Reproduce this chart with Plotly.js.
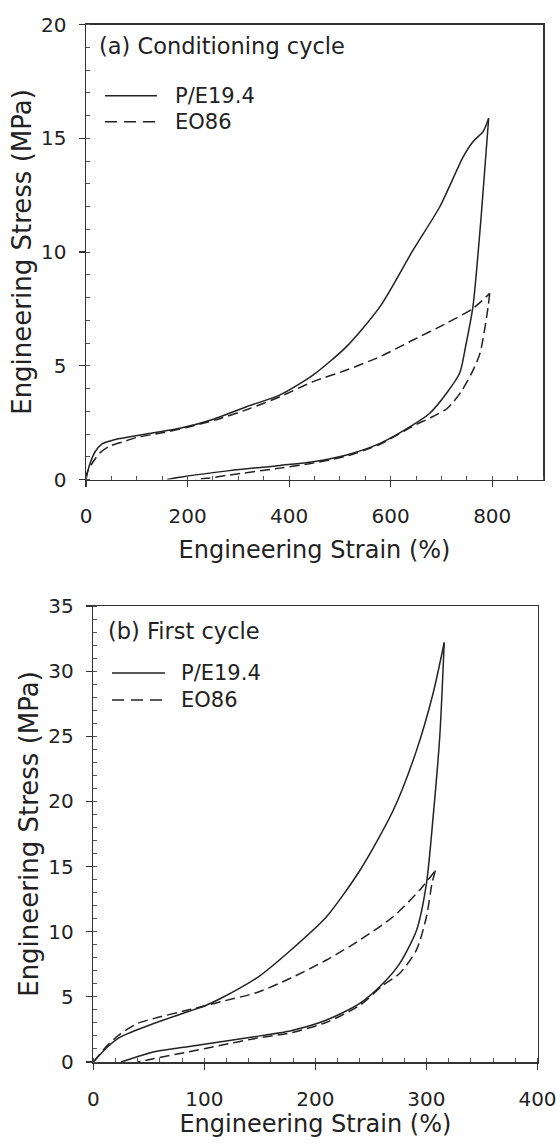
<!DOCTYPE html>
<html>
<head>
<meta charset="utf-8">
<script src="https://cdn.plot.ly/plotly-3.0.1.min.js"></script>
<style>html,body{margin:0;padding:0;background:#fff;}#chart{width:560px;height:1148px;}</style>
</head>
<body>
<div id="chart"></div>
<script>
// ---- Data ----
const seriesNames = ["P/E19.4", "EO86"];
const panelLabels = ["(a) Conditioning cycle", "(b) First cycle"];
const xTitle = "Engineering Strain (%)";
const yTitle = "Engineering Stress (MPa)";

// Panel (a): conditioning cycle
const condPELoadX   = [0, 4, 8, 18, 31, 54, 87, 119, 185, 251, 316, 382, 447, 513, 579, 644, 697, 743, 762, 782, 793];
const condPELoadY   = [0, 0.4, 0.71, 1.22, 1.56, 1.74, 1.88, 2.0, 2.25, 2.65, 3.2, 3.72, 4.59, 5.84, 7.60, 10.08, 12.0, 14.19, 14.85, 15.29, 15.88];
const condPEUnloadX = [793, 778, 762, 748, 736, 710, 677, 644, 579, 513, 447, 382, 283, 185, 160];
const condPEUnloadY = [15.88, 11.5, 7.60, 5.9, 4.68, 3.79, 2.91, 2.40, 1.59, 1.08, 0.78, 0.62, 0.39, 0.10, 0];
const condEOLoadX   = [0, 2, 14, 28, 47, 73, 100, 150, 200, 260, 320, 382, 447, 513, 579, 644, 710, 762, 795];
const condEOLoadY   = [0, 0.3, 0.78, 1.18, 1.47, 1.66, 1.85, 2.05, 2.3, 2.65, 3.1, 3.64, 4.30, 4.81, 5.40, 6.13, 6.87, 7.52, 8.18];
const condEOUnloadX = [795, 792, 776, 760, 740, 723, 710, 677, 644, 579, 513, 447, 382, 283, 238, 215];
const condEOUnloadY = [8.18, 7.6, 5.55, 4.7, 3.9, 3.4, 3.1, 2.7, 2.35, 1.55, 1.03, 0.72, 0.50, 0.2, 0.05, 0];

// Panel (b): first cycle
const firstPELoadX   = [0, 13, 25, 55, 85, 100, 115, 148, 178, 210, 240, 270, 291, 306, 316];
const firstPELoadY   = [0, 1.17, 1.94, 2.97, 3.86, 4.3, 4.89, 6.5, 8.6, 11.15, 14.7, 19.3, 23.9, 28.3, 32.2];
const firstPEUnloadX = [316, 312, 306, 300, 291, 276, 261, 240, 210, 178, 145, 115, 85, 55, 25];
const firstPEUnloadY = [32.2, 25.0, 18.8, 13.7, 10.1, 7.57, 6.04, 4.5, 3.22, 2.4, 1.94, 1.56, 1.17, 0.79, 0];
const firstEOLoadX   = [0, 13, 25, 40, 55, 85, 100, 115, 148, 178, 210, 240, 270, 294, 308];
const firstEOLoadY   = [0, 1.3, 2.2, 2.97, 3.35, 3.99, 4.3, 4.63, 5.35, 6.45, 7.83, 9.36, 11.15, 13.2, 14.7];
const firstEOUnloadX = [308, 305, 300, 291, 276, 261, 240, 210, 178, 145, 115, 85, 55, 40];
const firstEOUnloadY = [14.7, 13.7, 11.15, 8.6, 6.81, 5.9, 4.35, 3.05, 2.25, 1.79, 1.28, 0.77, 0.26, 0];

// ---- Styling ----
const W = 560, H = 1148;
const INK = '#222';
const FONT = 'DejaVu Sans, Liberation Sans, Arial, sans-serif';
const DASH = '10px,5px';
const px = v => v / W;
const py = v => 1 - v / H;

function trace(x, y, name, dash, xa, ya) {
  return {x: x, y: y, name: name, type: 'scatter', mode: 'lines', xaxis: xa, yaxis: ya,
          line: {color: INK, width: 1.5, dash: dash, shape: 'spline', smoothing: 0.7},
          showlegend: false, hoverinfo: 'skip'};
}
const data = [
  trace(condPELoadX, condPELoadY, seriesNames[0], 'solid', 'x', 'y'),
  trace(condPEUnloadX, condPEUnloadY, seriesNames[0], 'solid', 'x', 'y'),
  trace(condEOLoadX, condEOLoadY, seriesNames[1], DASH, 'x', 'y'),
  trace(condEOUnloadX, condEOUnloadY, seriesNames[1], DASH, 'x', 'y'),
  trace(firstPELoadX, firstPELoadY, seriesNames[0], 'solid', 'x2', 'y2'),
  trace(firstPEUnloadX, firstPEUnloadY, seriesNames[0], 'solid', 'x2', 'y2'),
  trace(firstEOLoadX, firstEOLoadY, seriesNames[1], DASH, 'x2', 'y2'),
  trace(firstEOUnloadX, firstEOUnloadY, seriesNames[1], DASH, 'x2', 'y2')
];

function xax(domain, range, dtick, minor, anchor, standoff) {
  return {domain: domain, range: range, dtick: dtick, tick0: 0, anchor: anchor,
    showline: true, mirror: true, linecolor: '#333', linewidth: 1.5,
    ticks: 'outside', ticklen: 6, tickwidth: 1.2, tickcolor: '#333',
    minor: {ticks: 'inside', dtick: minor, tick0: 0, ticklen: 4, tickwidth: 1, tickcolor: '#555', showgrid: false},
    showgrid: false, zeroline: false, automargin: false,
    tickfont: {family: FONT, size: 20, color: INK}, ticklabelstandoff: 12,
    title: {text: xTitle, font: {family: FONT, size: 24, color: INK}, standoff: standoff}};
}
function yax(domain, range, minor, anchor) {
  return {domain: domain, range: range, dtick: 5, tick0: 0, anchor: anchor,
    showline: true, mirror: true, linecolor: '#333', linewidth: 1.5,
    ticks: 'outside', ticklen: 6, tickwidth: 1.2, tickcolor: '#333',
    minor: {ticks: 'inside', dtick: minor, tick0: 0, ticklen: 4, tickwidth: 1, tickcolor: '#555', showgrid: false},
    showgrid: false, zeroline: false, automargin: false,
    tickfont: {family: FONT, size: 20, color: INK}, ticklabelstandoff: 8,
    title: {text: yTitle, font: {family: FONT, size: 26, color: INK}, standoff: 2}};
}

// Manual legends (line sample + label), positioned in paper space
const legends = [
  {x0: 105, x1: 157, tx: 173, rows: [95.7, 121.7]},
  {x0: 112, x1: 165, tx: 179, rows: [673, 700]}
];
const shapes = [];
const annotations = [];
legends.forEach(L => {
  L.rows.forEach((ry, i) => {
    shapes.push({type: 'line', xref: 'paper', yref: 'paper', x0: px(L.x0), x1: px(L.x1), y0: py(ry), y1: py(ry),
      line: {color: INK, width: 1.5, dash: i === 0 ? 'solid' : '12px,7px'}});
    annotations.push({xref: 'paper', yref: 'paper', x: px(L.tx), y: py(ry), xanchor: 'left', yanchor: 'middle',
      text: seriesNames[i], showarrow: false, font: {family: FONT, size: 21, color: INK}});
  });
});
annotations.push({xref: 'paper', yref: 'paper', x: px(97), y: py(46), xanchor: 'left', yanchor: 'middle',
  text: panelLabels[0], showarrow: false, font: {family: FONT, size: 22.5, color: INK}});
annotations.push({xref: 'paper', yref: 'paper', x: px(106), y: py(631), xanchor: 'left', yanchor: 'middle',
  text: panelLabels[1], showarrow: false, font: {family: FONT, size: 22.5, color: INK}});

const layout = {
  width: W, height: H, margin: {l: 0, r: 0, t: 0, b: 0},
  paper_bgcolor: '#fff', plot_bgcolor: '#fff', showlegend: false,
  font: {family: FONT, color: INK},
  xaxis: xax([px(86), px(543)], [0, 900], 200, 50, 'y', 14),
  yaxis: yax([1 - 479.5 / H, 1 - 24.5 / H], [0, 20], 1, 'x'),
  xaxis2: xax([px(93.3), px(537.5)], [0, 400], 100, 20, 'y2', 2),
  yaxis2: yax([1 - 1062 / H, 1 - 606 / H], [0, 35], 1, 'x2'),
  shapes: shapes, annotations: annotations
};

Plotly.newPlot('chart', data, layout, {staticPlot: true, displayModeBar: false});
</script>
</body>
</html>
